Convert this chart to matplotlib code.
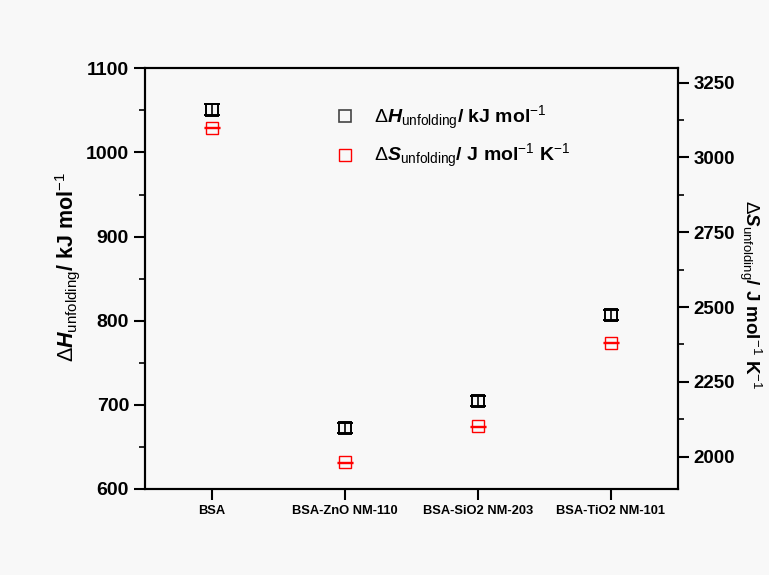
import numpy as np
import matplotlib
matplotlib.use("Agg")
import matplotlib.pyplot as plt
from matplotlib.ticker import MultipleLocator
from matplotlib.lines import Line2D

plt.rcParams['font.family'] = ['Liberation Sans', 'DejaVu Sans']
plt.rcParams['mathtext.fontset'] = 'custom'
plt.rcParams['mathtext.rm'] = 'Liberation Sans'
plt.rcParams['mathtext.it'] = 'Liberation Sans:italic:bold'
plt.rcParams['mathtext.bf'] = 'Liberation Sans:bold'

# data
samples = ['BSA', 'BSA-ZnO NM-110', 'BSA-SiO2 NM-203', 'BSA-TiO2 NM-101']
dH = [1051, 672, 705, 807]          # kJ/mol
dH_err = [7, 6, 6, 6]
dS = [3100, 1981, 2101, 2381]       # J/mol/K
dS_err = [2, 2, 2, 2]

x = np.arange(len(samples))

fig = plt.figure(figsize=(7.69, 5.75), dpi=100)
fig.patch.set_facecolor('#f8f8f8')
ax = fig.add_axes([0.1886, 0.1496, 0.6925, 0.7316])
ax.set_facecolor('#f8f8f8')
ax2 = ax.twinx()

ax.errorbar(x, dH, yerr=dH_err, fmt='s', ms=9, mfc='none', mec='black', mew=1.4,
            ecolor='black', elinewidth=1.2, capsize=6, capthick=2)
ax2.errorbar(x, dS, yerr=dS_err, fmt='s', ms=9, mfc='none', mec='red', mew=1.0,
             ecolor='red', elinewidth=1.0, capsize=6, capthick=1.5)

ax.set_xlim(-0.5, 3.5)
ax.set_ylim(600, 1100)
ax2.set_ylim(1892, 3298)

ax.set_xticks(x)
ax.set_xticklabels(samples, fontsize=9.3, fontweight='bold')
ax.yaxis.set_major_locator(MultipleLocator(100))
ax.yaxis.set_minor_locator(MultipleLocator(50))
ax2.yaxis.set_major_locator(MultipleLocator(250))
ax2.yaxis.set_minor_locator(MultipleLocator(125))

for a in (ax, ax2):
    for s in a.spines.values():
        s.set_linewidth(1.5)
    a.tick_params(which='major', direction='out', length=8, width=1.5, labelsize=14)
    a.tick_params(which='minor', direction='out', length=4, width=1.2)
ax.tick_params(axis='x', which='both', top=False, labelsize=9.3)
ax2.tick_params(axis='y', which='major', labelsize=13.5)
for lab in ax.get_yticklabels() + ax2.get_yticklabels():
    lab.set_fontweight('bold')

ax.set_ylabel(r'$\Delta\mathit{H}_{\mathrm{unfolding}}$/ kJ mol$^{\mathrm{-1}}$',
              fontsize=15.5, fontweight='bold', labelpad=3)
ax.yaxis.label.set_y(0.527)
ax2.set_ylabel(r'$\Delta\mathit{S}_{\mathrm{unfolding}}$/ J mol$^{\mathrm{-1}}$ K$^{\mathrm{-1}}$',
               fontsize=13.5, fontweight='bold', rotation=-90, labelpad=20)
ax2.yaxis.label.set_y(0.461)

handles = [Line2D([], [], marker='s', ls='none', ms=9, mfc='none', mec='#444444', mew=1.2),
           Line2D([], [], marker='s', ls='none', ms=9, mfc='none', mec='red', mew=1.0)]
labels = [r'$\Delta\mathit{H}_{\mathrm{unfolding}}$/ kJ mol$^{\mathrm{-1}}$',
          r'$\Delta\mathit{S}_{\mathrm{unfolding}}$/ J mol$^{\mathrm{-1}}$ K$^{\mathrm{-1}}$']
leg = ax.legend(handles, labels, loc='upper left', bbox_to_anchor=(0.325, 0.958),
                frameon=False, prop={'size': 14, 'weight': 'bold'},
                handletextpad=1.0, labelspacing=0.55, handlelength=1.0)

fig.savefig('out.png', dpi=100, facecolor=fig.get_facecolor())
